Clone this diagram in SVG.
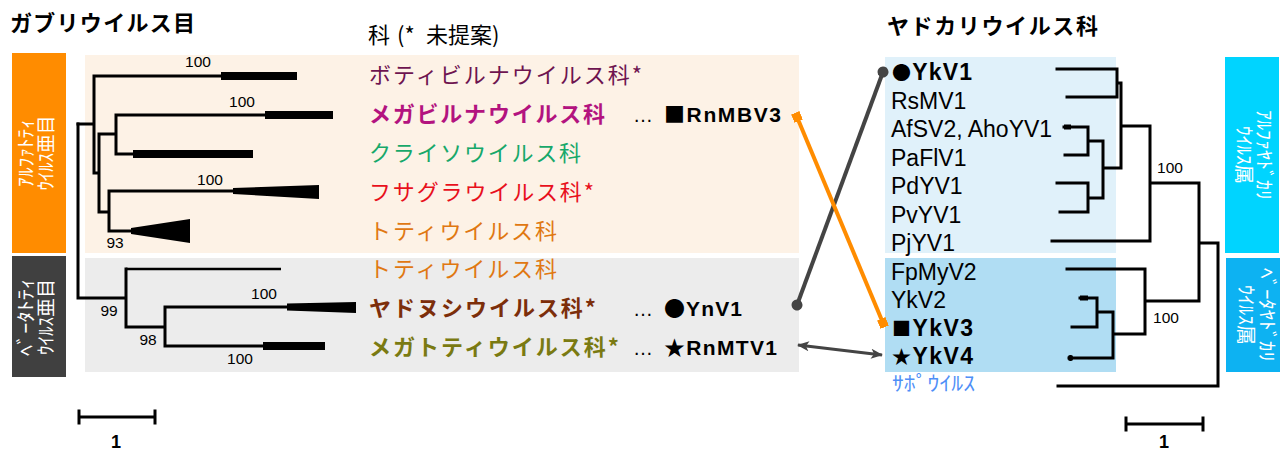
<svg xmlns="http://www.w3.org/2000/svg" width="1282" height="452" viewBox="0 0 1282 452">
<defs>
<style>
.jp{font-family:"Noto Sans CJK JP","Noto Sans CJK SC",sans-serif}
.lat{font-family:"Liberation Sans","Noto Sans CJK JP",sans-serif}
.br{fill:none;stroke:#000;stroke-width:3;stroke-linecap:square}
.fam{font-size:22px}
.b{font-weight:bold}
.vt{font-family:"Noto Sans CJK JP",sans-serif;font-size:19px;fill:#fff;text-anchor:middle}
.num{font-family:"Liberation Sans",sans-serif;font-size:15.5px;text-anchor:middle;fill:#000}
.vir{font-family:"Liberation Sans","Noto Sans CJK JP",sans-serif;font-size:23px;fill:#000}
.sym{font-family:"Noto Sans CJK JP",sans-serif}
.rsym{font-family:"Noto Sans CJK JP",sans-serif;font-size:19px}
</style>
<marker id="dot" viewBox="0 0 12 12" refX="6" refY="6" markerWidth="12" markerHeight="12" markerUnits="userSpaceOnUse" orient="auto">
<circle cx="6" cy="6" r="5.5" fill="#444"/>
</marker>
<marker id="sq" viewBox="0 0 10 10" refX="5" refY="5" markerWidth="9" markerHeight="9" markerUnits="userSpaceOnUse" orient="auto">
<rect x="0" y="0" width="10" height="10" fill="#ff8c00"/>
</marker>
<marker id="arr" viewBox="0 0 12 10" refX="11" refY="5" markerWidth="13" markerHeight="10" markerUnits="userSpaceOnUse" orient="auto-start-reverse">
<path d="M0,0 L12,5 L0,10 L3,5 z" fill="#444"/>
</marker>
</defs>

<!-- titles -->
<text class="jp b" x="10" y="31" font-size="22" textLength="185" lengthAdjust="spacing">ガブリウイルス目</text>
<text class="jp" y="43" font-size="22"><tspan x="368">科</tspan><tspan x="397">(*</tspan><tspan x="426">未提案)</tspan></text>
<text class="jp b" x="887" y="34" font-size="22" textLength="211" lengthAdjust="spacing">ヤドカリウイルス科</text>

<!-- backgrounds -->
<rect x="85" y="55" width="714" height="198" fill="#fdf2e6"/>
<rect x="85" y="258" width="714" height="114" fill="#ececec"/>
<rect x="885" y="57" width="231" height="196" fill="#e0f1fa"/>
<rect x="885" y="258" width="231" height="114" fill="#b0ddf3"/>

<!-- suborder / genus bars -->
<g id="alphatotivirineae">
<rect x="12" y="53" width="54" height="200" fill="#ff8c00"/>
<g transform="translate(39,153) rotate(-90)">
<text class="vt" x="0" y="-6" textLength="68" lengthAdjust="spacingAndGlyphs">ｱﾙﾌｧﾄﾃｨ</text>
<text class="vt" x="0" y="14" textLength="75" lengthAdjust="spacingAndGlyphs">ｳｲﾙｽ亜目</text>
</g>
</g>
<g id="betatotivirineae">
<rect x="12" y="256" width="54" height="121" fill="#404040"/>
<g transform="translate(39,317) rotate(-90)">
<text class="vt" x="0" y="-6" textLength="78" lengthAdjust="spacingAndGlyphs">ﾍﾞｰﾀﾄﾃｨ</text>
<text class="vt" x="0" y="14" textLength="76" lengthAdjust="spacingAndGlyphs">ｳｲﾙｽ亜目</text>
</g>
</g>
<g id="alphayadokarivirus">
<rect x="1225" y="57" width="54" height="196" fill="#00d4ff"/>
<g transform="translate(1252,155) rotate(90)">
<text class="vt" x="0" y="-5" textLength="90" lengthAdjust="spacingAndGlyphs">ｱﾙﾌｧﾔﾄﾞｶﾘ</text>
<text class="vt" x="0" y="15" textLength="58" lengthAdjust="spacingAndGlyphs">ｳｲﾙｽ属</text>
</g>
</g>
<g id="betayadokarivirus">
<rect x="1226" y="258" width="54" height="114" fill="#0db2f2"/>
<g transform="translate(1253,315) rotate(90)">
<text class="vt" x="0" y="-7" textLength="94" lengthAdjust="spacingAndGlyphs">ﾍﾞｰﾀﾔﾄﾞｶﾘ</text>
<text class="vt" x="0" y="14" textLength="60" lengthAdjust="spacingAndGlyphs">ｳｲﾙｽ属</text>
</g>
</g>

<!-- left tree -->
<g id="left-tree">
<path class="br" d="M78,124 H94 M94,76 V173 H99 M94,76 H221 M99,134 V212 M99,134 H116 M116,115 V154 M116,115 H265 M116,154 H133 M99,212 H109 M109,191 V231 M109,191 H233 M109,231 H131"/>
<path class="br" d="M78,124 V298 H126 M126,269 V327 M126,327 H165 M165,307 V346 M165,307 H287 M165,346 H263"/>
<path d="M126,269 H281" fill="none" stroke="#000" stroke-width="2.5"/>
<rect x="221" y="72" width="76" height="8" fill="#000"/>
<rect x="265" y="111" width="68" height="8" fill="#000"/>
<rect x="133" y="150" width="120" height="8" fill="#000"/>
<polygon points="233,188 319,185 319,199 233,194" fill="#000"/>
<polygon points="131,228 190,219 190,243 131,234" fill="#000"/>
<polygon points="287,303.5 356,302 356,313 287,310.5" fill="#000"/>
<rect x="263" y="342" width="62" height="8" fill="#000"/>
<text class="num" x="198" y="67">100</text>
<text class="num" x="242" y="107">100</text>
<text class="num" x="210" y="185">100</text>
<text class="num" x="115" y="248">93</text>
<text class="num" x="109" y="316">99</text>
<text class="num" x="148" y="345">98</text>
<text class="num" x="264" y="299">100</text>
<text class="num" x="240" y="364">100</text>
<path class="br" d="M79,417 H155 M79,411 V423 M155,411 V423" stroke-linecap="butt"/>
<text class="lat b" x="116" y="448" font-size="18" text-anchor="middle">1</text>
</g>

<!-- family labels -->
<g id="botybirnaviridae"><text class="jp fam" x="369" y="83" fill="#6e1450" textLength="273" lengthAdjust="spacing">ボティビルナウイルス科*</text></g>
<g id="megabirnaviridae">
<text class="jp fam b" x="369" y="122" fill="#b3137f" textLength="236" lengthAdjust="spacing">メガビルナウイルス科</text>
<text class="lat" x="633" y="122" font-size="20">…</text>
<text class="lat b" x="664" y="122" font-size="21" textLength="117" lengthAdjust="spacing"><tspan class="sym">■</tspan>RnMBV3</text>
</g>
<g id="chrysoviridae"><text class="jp fam" x="369" y="161" fill="#17a86a" textLength="212" lengthAdjust="spacing">クライソウイルス科</text></g>
<g id="fusagraviridae"><text class="jp fam" x="369" y="200" fill="#e8101c" textLength="225" lengthAdjust="spacing">フサグラウイルス科*</text></g>
<g id="totiviridae-1"><text class="jp fam" x="369" y="239" fill="#e07812" textLength="188" lengthAdjust="spacing">トティウイルス科</text></g>
<g id="totiviridae-2"><text class="jp fam" x="369" y="277" fill="#e07812" textLength="188" lengthAdjust="spacing">トティウイルス科</text></g>
<g id="yadonushiviridae">
<text class="jp fam b" x="369" y="316" fill="#7c2e0a" textLength="227" lengthAdjust="spacing">ヤドヌシウイルス科*</text>
<text class="lat" x="633" y="316" font-size="20">…</text>
<text class="lat b" x="664" y="316" font-size="21" textLength="78" lengthAdjust="spacing"><tspan class="sym">●</tspan>YnV1</text>
</g>
<g id="megatotiviridae">
<text class="jp fam b" x="369" y="355" fill="#7a7a12" textLength="250" lengthAdjust="spacing">メガトティウイルス科*</text>
<text class="lat" x="633" y="355" font-size="20">…</text>
<text class="lat b" x="664" y="355" font-size="21" textLength="113" lengthAdjust="spacing"><tspan class="sym">★</tspan>RnMTV1</text>
</g>

<!-- right tree -->
<g id="right-tree">
<path class="br" d="M1057,69 H1117 V97 H1067 M1117,83 H1121 M1121,83 V168 M1121,126 H1150 M1064,127 H1088 V155 H1065 M1088,141 H1103 M1103,141 V198 M1057,183 H1088 V212 H1060 M1088,198 H1103 M1103,168 H1121 M1150,126 V241 M1052,241 H1150 M1150,183 H1199 M1199,183 V301 M1145,301 H1199 M1199,243 H1218 M1218,243 V386 M1058,386 H1218 M1067,269 H1145 V334 H1113 M1113,312 V358 M1097,312 H1113 M1097,298 V327 M1080,298 H1097 M1072,327 H1097 M1069,358 H1113"/>
<rect x="1064" y="124.5" width="7" height="5" fill="#000"/>
<rect x="1080" y="295.5" width="8" height="5" fill="#000"/>
<rect x="1068" y="355" width="5" height="6" rx="2" fill="#000"/>
<text class="num" x="1170" y="173" font-size="12">100</text>
<text class="num" x="1166" y="323" font-size="12">100</text>
<path class="br" d="M1126,424 H1203 M1126,418 V430 M1203,418 V430" stroke-linecap="butt"/>
<text class="lat b" x="1164" y="448" font-size="18" text-anchor="middle">1</text>
</g>

<!-- virus labels -->
<g id="YkV1"><text class="vir b" x="892" y="80" font-size="22" textLength="80" lengthAdjust="spacing"><tspan class="rsym">●</tspan>YkV1</text></g>
<g id="RsMV1"><text class="vir" x="891" y="109">RsMV1</text></g>
<g id="AfSV2"><text class="vir" x="891" y="137">AfSV2, AhoYV1</text></g>
<g id="PaFlV1"><text class="vir" x="891" y="166">PaFlV1</text></g>
<g id="PdYV1"><text class="vir" x="891" y="194">PdYV1</text></g>
<g id="PvYV1"><text class="vir" x="891" y="223">PvYV1</text></g>
<g id="PjYV1"><text class="vir" x="891" y="251">PjYV1</text></g>
<g id="FpMyV2"><text class="vir" x="891" y="280">FpMyV2</text></g>
<g id="YkV2"><text class="vir" x="891" y="308">YkV2</text></g>
<g id="YkV3"><text class="vir b" x="892" y="336" font-size="22" textLength="81" lengthAdjust="spacing"><tspan class="rsym">■</tspan>YkV3</text></g>
<g id="YkV4"><text class="vir b" x="892" y="364" font-size="22" textLength="81" lengthAdjust="spacing"><tspan class="rsym">★</tspan>YkV4</text></g>
<g id="sapovirus"><text class="jp" x="892" y="391" font-size="20" fill="#4f8ff7" textLength="83" lengthAdjust="spacingAndGlyphs">ｻﾎﾟｳｲﾙｽ</text></g>

<!-- connectors -->
<g id="connectors">
<line x1="797" y1="305" x2="883" y2="72" stroke="#444" stroke-width="4" marker-start="url(#dot)" marker-end="url(#dot)"/>
<line x1="797" y1="117" x2="883" y2="323" stroke="#ff8c00" stroke-width="4" marker-start="url(#sq)" marker-end="url(#sq)"/>
<line x1="798" y1="345" x2="882" y2="355" stroke="#444" stroke-width="3" marker-start="url(#arr)" marker-end="url(#arr)"/>
</g>
</svg>
